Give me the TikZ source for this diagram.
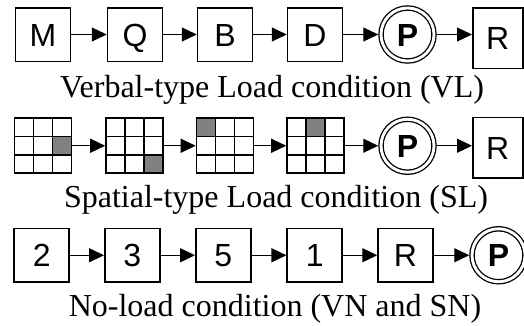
\documentclass[tikz,border=0pt]{standalone}
\usepackage{fontspec}
\setmainfont{Liberation Serif}
\newfontfamily\boxfont{Liberation Sans}
\usetikzlibrary{arrows.meta,calc}
\definecolor{cellgray}{RGB}{128,128,128}

\begin{document}
\begin{tikzpicture}[x=1pt,y=-1pt,
  stepbox/.style={draw, line width=1.5pt, minimum width=55pt, minimum height=53.5pt,
    inner sep=0pt, text height=23pt, text depth=0pt,
    font=\boxfont\fontsize{32}{32}\selectfont},
  endbox/.style={stepbox, minimum width=50pt, minimum height=60.5pt},
  goal/.style={circle, draw, double, double distance=2.9pt, line width=1.3pt,
    minimum size=53pt, inner sep=0pt, outer sep=2.75pt, text height=23pt, text depth=0pt,
    font=\boxfont\bfseries\fontsize{32}{32}\selectfont},
  gridbox/.style={minimum width=57pt, minimum height=55pt, inner sep=0pt, outer sep=0.8pt},
  gridline/.style={line width=1.6pt},
  flow/.style={-{Triangle[length=15pt,width=14pt]}, line width=1.2pt},
  caption/.style={anchor=base, inner sep=0pt, font=\fontsize{32}{32}\selectfont},
]
\useasboundingbox (0,0) rectangle (524,325);

% Verbal-type load sequence
\node[stepbox] (m)  at (43,34.5)  {M};
\node[stepbox] (q)  at (135,34.5) {Q};
\node[stepbox] (b)  at (225,34.5) {B};
\node[stepbox] (d)  at (315,34.5) {D};
\node[goal]    (p1) at (407.5,34.5) {P};
\node[endbox]  (r1) at (497.75,38) {R};
\draw[flow] (m) -- (q);
\draw[flow] (q) -- (b);
\draw[flow] (b) -- (d);
\draw[flow] (d) -- (p1);
\draw[flow] (p1.east) -- (p1.east -| r1.west);
\node[caption] (cap1) at (272,97) {Verbal-type Load condition (VL)};

% Spatial-type load sequence: 3x3 grids with one marked cell
\foreach \n/\x/\c/\r in {g1/43/2/1, g2/134.5/2/2, g3/225/0/0, g4/315.5/1/0}{
  \node[gridbox] (\n) at (\x,145.75) {};
  \begin{scope}[shift={(\n.center)}]
    \fill[cellgray] (-28.5+\c*19,-27.5+\r*18.3333) rectangle ++(19,18.3333);
    \draw[gridline] (-28.5,-27.5) rectangle (28.5,27.5);
    \draw[gridline] (-9.5,-27.5) -- (-9.5,27.5) (9.5,-27.5) -- (9.5,27.5)
      (-28.5,-9.1667) -- (28.5,-9.1667) (-28.5,9.1667) -- (28.5,9.1667);
  \end{scope}
}
\node[goal]   (p2) at (407.5,145.75) {P};
\node[endbox] (r2) at (497.75,147.5) {R};
\draw[flow] (g1) -- (g2);
\draw[flow] (g2) -- (g3);
\draw[flow] (g3) -- (g4);
\draw[flow] (g4) -- (p2);
\draw[flow] (p2.east) -- (p2.east -| r2.west);
\node[caption] (cap2) at (276,207.5) {Spatial-type Load condition (SL)};

% No-load sequence
\node[stepbox] (n2) at (41.7,255.25)  {2};
\node[stepbox] (n3) at (132.3,255.25) {3};
\node[stepbox] (n5) at (223.3,255.25) {5};
\node[stepbox] (n1) at (314.7,255.25) {1};
\node[stepbox] (r3) at (405.5,255.25) {R};
\node[goal]    (p3) at (498.5,255.25) {P};
\draw[flow] (n2) -- (n3);
\draw[flow] (n3) -- (n5);
\draw[flow] (n5) -- (n1);
\draw[flow] (n1) -- (r3);
\draw[flow] (r3) -- (p3);
\node[caption] (cap3) at (275,316) {No-load condition (VN and SN)};
\end{tikzpicture}
\end{document}
